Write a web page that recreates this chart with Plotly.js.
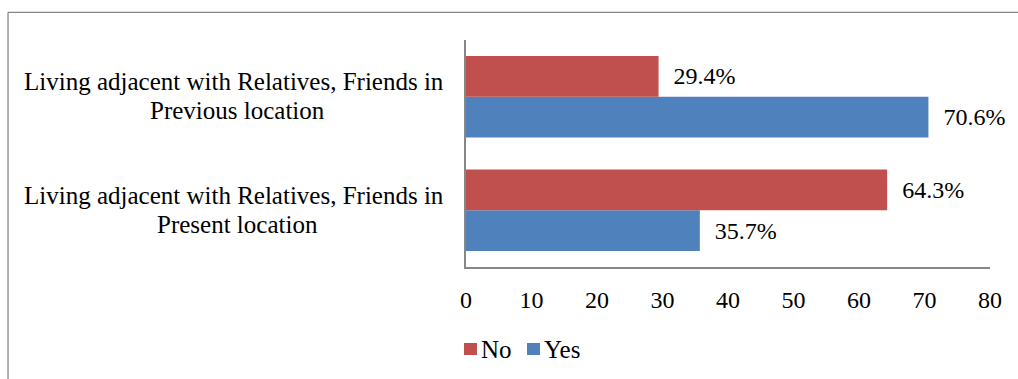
<!DOCTYPE html>
<html>
<head>
<meta charset="utf-8">
<script src="https://cdn.plot.ly/plotly-3.0.1.min.js"></script>
<style>
  html, body { margin: 0; padding: 0; background: #fff; }
  #chart { width: 1018px; height: 379px; }
</style>
</head>
<body>
<div id="chart"></div>
<script>
// Categories listed bottom-to-top as Plotly lays out a horizontal category axis
const categories = ['present', 'previous'];
const categoryLines = [
  ['Living adjacent with Relatives, Friends in', 'Present location'],
  ['Living adjacent with Relatives, Friends in', 'Previous location']
];
const seriesNames = ['No', 'Yes'];
const noValues = [64.3, 29.4];
const yesValues = [35.7, 70.6];
const xTicks = [0, 10, 20, 30, 40, 50, 60, 70, 80];

const serif = 'Liberation Serif, Times New Roman, serif';
const gray = '#878787';
const colors = { No: '#C0504D', Yes: '#4F81BD' };

const barCommon = {
  type: 'bar',
  orientation: 'h',
  y: categories,
  textposition: 'outside',
  texttemplate: '\u00a0\u00a0%{x:.1f}%',
  textfont: { family: serif, size: 24, color: '#000' },
  cliponaxis: false,
  constraintext: 'none',
  hoverinfo: 'skip',
  showlegend: false
};

// "Yes" is drawn first so it sits below "No" inside each group
const traces = [
  Object.assign({}, barCommon, { name: 'Yes', x: yesValues, marker: { color: colors.Yes } }),
  Object.assign({}, barCommon, { name: 'No', x: noValues, marker: { color: colors.No } })
];

// Two-line category captions: first line right-aligned to the axis,
// second line centred under the first
const lineShifts = [15.25, -13.75];
const labelRightShift = -20;
const firstLineHalfWidth = 209;
const annotations = [];
categories.forEach((c, i) => {
  categoryLines[i].forEach((line, j) => {
    annotations.push({
      xref: 'paper', yref: 'y',
      x: 0, y: c,
      xanchor: j === 0 ? 'right' : 'center',
      xshift: j === 0 ? labelRightShift : labelRightShift - firstLineHalfWidth,
      yanchor: 'middle',
      yshift: lineShifts[j],
      showarrow: false,
      text: line,
      font: { family: serif, size: 25, color: '#000' }
    });
  });
});

// Outer chart frame (top and left edges)
const frameLeft = -0.874;
const frameTop = 1.122;
const shapes = [
  { type: 'line', xref: 'paper', yref: 'paper', x0: frameLeft, x1: frameLeft, y0: -1, y1: frameTop,
    line: { color: gray, width: 1.3 } },
  { type: 'line', xref: 'paper', yref: 'paper', x0: frameLeft, x1: 2, y0: frameTop, y1: frameTop,
    line: { color: gray, width: 1.3 } }
];

// Compact legend below the axis: square swatch followed by the series name
const legendX = [-0.0038, 0.1164];
const swatchW = 0.0248;
const legendY0 = -0.3877, legendY1 = -0.3348;
seriesNames.forEach((name, i) => {
  shapes.push({
    type: 'rect', xref: 'paper', yref: 'paper',
    x0: legendX[i], x1: legendX[i] + swatchW, y0: legendY0, y1: legendY1,
    fillcolor: colors[name], line: { width: 0 }
  });
  annotations.push({
    xref: 'paper', yref: 'paper',
    x: legendX[i] + swatchW, y: (legendY0 + legendY1) / 2,
    xanchor: 'left', yanchor: 'middle',
    xshift: 2,
    showarrow: false,
    text: name,
    font: { family: serif, size: 25, color: '#000' }
  });
});

const layout = {
  width: 1018,
  height: 379,
  margin: { l: 466, r: 28, t: 40, b: 112, pad: 0 },
  paper_bgcolor: '#fff',
  plot_bgcolor: '#fff',
  barmode: 'group',
  bargap: 0.28,
  bargroupgap: 0,
  showlegend: false,
  xaxis: {
    range: [0, 80],
    tickmode: 'array',
    tickvals: xTicks,
    ticktext: xTicks.map(String),
    showgrid: false,
    zeroline: false,
    showline: true,
    linecolor: gray,
    linewidth: 2,
    ticks: '',
    ticklabelstandoff: 10,
    tickfont: { family: serif, size: 24, color: '#000' },
    fixedrange: true
  },
  yaxis: {
    type: 'category',
    categoryorder: 'array',
    categoryarray: categories,
    showticklabels: false,
    showgrid: false,
    zeroline: false,
    showline: true,
    linecolor: gray,
    linewidth: 2,
    ticks: '',
    fixedrange: true
  },
  annotations: annotations,
  shapes: shapes,
  font: { family: serif, color: '#000' }
};

Plotly.newPlot('chart', traces, layout, { displayModeBar: false, staticPlot: true });
</script>
</body>
</html>
